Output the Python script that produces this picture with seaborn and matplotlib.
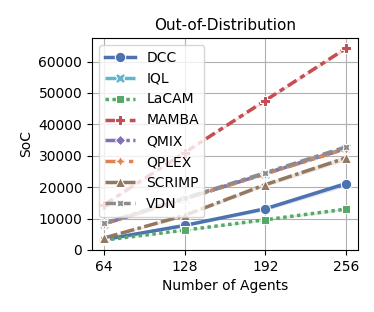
import pandas as pd
import seaborn as sns
import matplotlib.pyplot as plt

agents = [64, 128, 192, 256]
algorithms = ['DCC', 'IQL', 'LaCAM', 'MAMBA', 'QMIX', 'QPLEX', 'SCRIMP', 'VDN']

# mean SoC per algorithm
soc = {
    'DCC':    [3300, 7800, 13100, 21100],
    'IQL':    [8300, 16300, 24300, 32400],
    'LaCAM':  [3100, 6300, 9600, 13000],
    'MAMBA':  [14400, 31000, 47600, 64200],
    'QMIX':   [8300, 16300, 24300, 32300],
    'QPLEX':  [8300, 16200, 24200, 32200],
    'SCRIMP': [3800, 11000, 20800, 29300],
    'VDN':    [8500, 16500, 24600, 32800],
}
# half width of the shaded band
spread = {
    'DCC':    [200, 400, 600, 900],
    'IQL':    [100, 200, 300, 400],
    'LaCAM':  [100, 200, 300, 400],
    'MAMBA':  [200, 300, 400, 500],
    'QMIX':   [100, 200, 300, 400],
    'QPLEX':  [100, 200, 300, 400],
    'SCRIMP': [200, 400, 600, 800],
    'VDN':    [100, 200, 300, 400],
}

deep = sns.color_palette('deep')
palette = {
    'DCC': deep[0], 'IQL': deep[9], 'LaCAM': deep[2], 'MAMBA': deep[3],
    'QMIX': deep[4], 'QPLEX': deep[1], 'SCRIMP': deep[5], 'VDN': deep[7],
}

rows = []
for alg in algorithms:
    for n, v in zip(agents, soc[alg]):
        rows.append({'Number of Agents': n, 'SoC': v, 'Algorithm': alg})
df = pd.DataFrame(rows)

fig, ax = plt.subplots(figsize=(3.74, 3.12), dpi=100)
ax.grid(True, color='#b0b0b0', linewidth=0.8, zorder=0)
ax.set_axisbelow(True)

for alg in algorithms:
    lo = [m - s for m, s in zip(soc[alg], spread[alg])]
    hi = [m + s for m, s in zip(soc[alg], spread[alg])]
    ax.fill_between(agents, lo, hi, color=palette[alg], alpha=0.2, linewidth=0)

sns.lineplot(data=df, x='Number of Agents', y='SoC', hue='Algorithm', style='Algorithm',
             hue_order=algorithms, style_order=algorithms, palette=palette,
             markers=True, dashes=True, linewidth=2.5, markersize=7.5, errorbar=None, ax=ax)

ax.set_xticks(agents)
ax.set_ylim(0, 67500)
ax.set_yticks(range(0, 60001, 10000))
ax.set_title('Out-of-Distribution', fontsize=11)
ax.set_xlabel('Number of Agents', fontsize=10)
ax.set_ylabel('SoC', fontsize=10)
ax.tick_params(labelsize=10)
ax.legend(loc='upper left', fontsize=10, handlelength=2.2)

fig.subplots_adjust(left=0.246, right=0.957, top=0.878, bottom=0.199)
plt.savefig('out.png')
